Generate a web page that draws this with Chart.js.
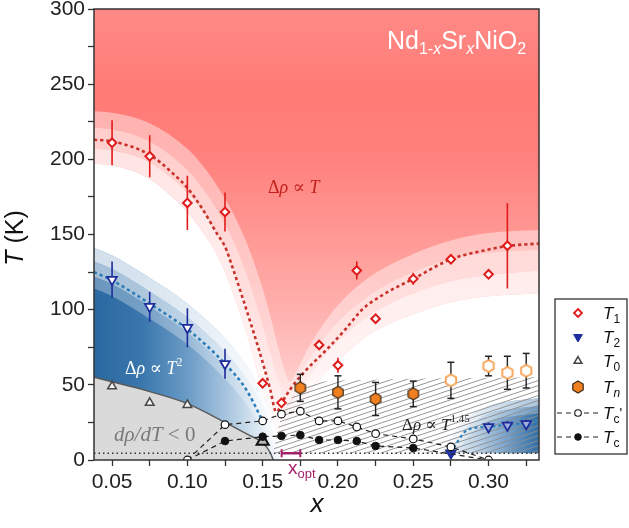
<!DOCTYPE html>
<html lang="en">
<head>
<meta charset="utf-8">
<title>Nd1-xSrxNiO2 phase diagram</title>
<script src="https://cdn.jsdelivr.net/npm/chart.js@4.4.1/dist/chart.umd.min.js"></script>
<style>
html,body{margin:0;padding:0;background:#fff;}
canvas{display:block;}
</style>
</head>
<body>
<canvas id="chart" width="629" height="528"></canvas>
<script>
// ================= DATA =================
const xTicks = [0.05, 0.075, 0.10, 0.125, 0.15, 0.175, 0.20, 0.225, 0.25, 0.275, 0.30, 0.325];
const yTicks = [0, 25, 50, 75, 100, 125, 150, 175, 200, 225, 250, 275, 300];
const xRange = [0.038, 0.3335];
const yRange = [0, 300];

// T1 (red open diamonds)
const t1X   = [0.05, 0.075, 0.10, 0.125, 0.15, 0.1625, 0.1875, 0.20, 0.2125, 0.225, 0.25, 0.275, 0.30, 0.3125];
const t1T   = [211, 202, 171, 165, 51, 38, 76.5, 63, 126, 94, 120.5, 133.5, 123.5, 142.5];
const t1Err = [15, 14, 18, 13, 0, 0, 0, 5, 6, 0, 4, 0, 0, 28.5];
// T2 (blue down triangles)
const t2X   = [0.05, 0.075, 0.10, 0.125, 0.275, 0.30, 0.3125, 0.325];
const t2T   = [120, 102, 88, 64, 4.6, 22, 23, 24];
const t2Err = [12, 10, 13, 10, 0, 3, 3, 3];
// T0 (grey up triangles)
const t0X = [0.05, 0.075, 0.10, 0.15];
const t0T = [49, 38, 36.6, 12.5];
// Tn (orange hexagons)
const tnX   = [0.175, 0.20, 0.225, 0.25, 0.275, 0.30, 0.3125, 0.325];
const tnT   = [48, 45, 40.6, 44, 53, 62.5, 58, 59.4];
const tnErr = [9, 11, 11, 8.5, 12, 6.5, 11, 11.5];
// Tc' (open circles) and Tc (filled circles)
const tcpX = [0.10, 0.125, 0.15, 0.1625, 0.175, 0.1875, 0.20, 0.2125, 0.225, 0.25, 0.275, 0.30];
const tcpT = [0, 23.5, 26, 30.5, 32.5, 26, 26, 22, 17.5, 14, 8.7, 0];
const tcX  = [0.10, 0.125, 0.15, 0.1625, 0.175, 0.1875, 0.20, 0.2125, 0.225, 0.25, 0.275, 0.30];
const tcT  = [0, 12.6, 15.5, 16, 16.6, 13.3, 13.3, 12.6, 9.3, 8, 4, 0];
// optimal doping window and the low-T dotted level
const xOptRange = [0.1626, 0.175];
const xOptT = 4.5;
const baseT = 4.5;

// guide-to-the-eye fits
const t1FitX = [0.038,0.05,0.075,0.09,0.10,0.11,0.12,0.125,0.13,0.136,0.143,0.15,0.155,0.159,0.165,0.172,0.179,0.187,0.194,0.205,0.216,0.23,0.25,0.275,0.30,0.313,0.3335];
const t1FitT = [213,212,203,191,181,167,150,142,128,110,88,65,47,32,42,52,60,68,75,87,100,110,120.5,133.5,140,142.4,144];
const t2FitX = [0.038,0.05,0.075,0.10,0.125,0.139,0.15];
const t2FitT = [125,119.5,104,87,64,47,26];
const t2FitRX = [0.275,0.28,0.2845,0.29,0.30,0.3125,0.325,0.3335];
const t2FitRT = [4.6,13,19,21.3,22,23.5,24.5,25.5];

// region boundaries [x, T]
const redEdge1 = [[0.038,232],[0.05,231],[0.075,224],[0.10,207],[0.11,196],[0.12,182],[0.13,165],[0.14,143],[0.15,114],[0.155,96],[0.16,76],[0.165,58],[0.168,52],[0.172,58],[0.18,74],[0.19,90],[0.20,103],[0.22,121],[0.25,137],[0.275,146],[0.30,151],[0.3335,153]];
const redEdge2 = [[0.038,221],[0.05,220],[0.075,212],[0.10,193],[0.11,181],[0.12,166],[0.13,147],[0.14,122],[0.15,90],[0.155,72],[0.16,54],[0.164,44],[0.168,46],[0.175,58],[0.18,66],[0.19,80],[0.20,92],[0.22,109],[0.25,125],[0.275,134],[0.30,138],[0.3335,140]];
const redEdge3 = [[0.038,207],[0.05,206],[0.075,198],[0.10,178],[0.11,166],[0.12,150],[0.13,129],[0.14,102],[0.15,68],[0.155,50],[0.16,33],[0.163,28],[0.168,36],[0.175,47],[0.18,55],[0.19,68],[0.20,79],[0.22,96],[0.25,111],[0.275,119],[0.30,123],[0.3335,126]];
const redEdge4 = [[0.038,197],[0.05,196],[0.075,187],[0.09,175],[0.10,165],[0.11,152],[0.116,143],[0.12,136],[0.13,112],[0.14,82],[0.145,64],[0.15,45],[0.155,28],[0.16,16],[0.165,22],[0.17,30],[0.18,44],[0.19,56],[0.20,66],[0.22,83],[0.25,97],[0.275,105],[0.30,109],[0.3335,111]];
const blueEdge1 = [[0.038,141],[0.05,136],[0.075,121],[0.10,104],[0.125,81],[0.14,62],[0.15,44],[0.157,25],[0.162,5]];
const blueEdge2 = [[0.038,132],[0.05,127],[0.075,112],[0.10,95],[0.125,72],[0.14,53],[0.15,36],[0.157,18],[0.162,4]];
const blueEdge3 = [[0.038,122],[0.05,117],[0.075,102],[0.10,85],[0.125,62],[0.14,44],[0.15,27],[0.157,12],[0.162,3]];
const blueEdge4 = [[0.038,114],[0.05,109],[0.075,94],[0.10,77],[0.125,54],[0.14,36],[0.15,20],[0.157,8],[0.162,2]];
const greyEdge  = [[0.038,55],[0.05,52],[0.075,45.5],[0.10,37.5],[0.125,25],[0.14,17],[0.15,11.5],[0.155,5],[0.157,0]];
const rBlueEdge1 = [[0.266,4.5],[0.272,10],[0.28,22],[0.29,31],[0.30,36],[0.315,39],[0.3335,41]];
const rBlueEdge2 = [[0.27,4.5],[0.276,9],[0.283,19],[0.293,27],[0.30,31],[0.315,34],[0.3335,36]];
const rBlueEdge3 = [[0.274,4.5],[0.28,8],[0.287,16],[0.295,23],[0.30,26],[0.315,29],[0.3335,31]];
const hatchEdge  = [[0.157,4.5],[0.16,20],[0.165,35],[0.172,44],[0.18,49],[0.19,52],[0.21,53],[0.25,54],[0.3335,55]];

// ================= helpers =================
const SANS = '"Liberation Sans", Arial, Helvetica, sans-serif';
const SERIF = '"Liberation Serif", "DejaVu Serif", "Times New Roman", serif';
const pts = a => a.map(([x, y]) => ({x, y}));
const zip = (xs, ys) => xs.map((x, i) => ({x, y: ys[i]}));
function errSeg(xs, ys, es) {
  const d = [];
  xs.forEach((x, i) => { if (es[i] > 0) d.push({x, y: ys[i] - es[i]}, {x, y: ys[i] + es[i]}, {x, y: null}); });
  return d;
}
function errCaps(xs, ys, es) {
  const d = [];
  xs.forEach((x, i) => { if (es[i] > 0) d.push({x, y: ys[i] - es[i]}, {x, y: ys[i] + es[i]}); });
  return d;
}
function vGrad(chart, stops) {
  const {ctx, chartArea, scales} = chart;
  if (!chartArea) return 'rgba(0,0,0,0)';
  const y0 = scales.y.getPixelForValue(yRange[1]), y1 = scales.y.getPixelForValue(yRange[0]);
  const g = ctx.createLinearGradient(0, y0, 0, y1);
  stops.forEach(([t, c]) => g.addColorStop(Math.min(1, Math.max(0, (scales.y.getPixelForValue(t) - y0) / (y1 - y0))), c));
  return g;
}
function hGrad(chart, stops) {
  const {ctx, chartArea, scales} = chart;
  if (!chartArea) return 'rgba(0,0,0,0)';
  const xa = scales.x.getPixelForValue(stops[0][0]), xb = scales.x.getPixelForValue(stops[stops.length - 1][0]);
  const g = ctx.createLinearGradient(xa, 0, xb, 0);
  stops.forEach(([x, c]) => g.addColorStop((scales.x.getPixelForValue(x) - xa) / (xb - xa), c));
  return g;
}
const redStops = [[300,'#ff8a86'],[245,'#ff7b76'],[200,'#ff817d'],[150,'#ff9894'],[100,'#ffb0ad'],[60,'#ffc9c7'],[30,'#ffe0df'],[0,'#fff6f6']];
const blueStops = [[0.038,'#2a68a1'],[0.07,'#3a77ad'],[0.10,'#6b9bc6'],[0.125,'#a5c3de'],[0.145,'#d7e5f1'],[0.162,'#f7fafd']];
const rBlueStops = [[0.266,'#ffffff'],[0.29,'#c2d6e8'],[0.31,'#7fa7cd'],[0.3335,'#2f6da5']];

const mainCtx = document.getElementById('chart').getContext('2d');
function makeHatch() {
  const c = document.createElement('canvas'); c.width = 15; c.height = 5;
  const g = c.getContext('2d'); g.strokeStyle = '#8c8c8c'; g.lineWidth = 0.9;
  for (const o of [-5, 0, 5]) { g.beginPath(); g.moveTo(0, 5 + o); g.lineTo(15, o); g.stroke(); }
  return mainCtx.createPattern(c, 'repeat');
}
const hatch = makeHatch();
function hexCanvas(fill, stroke, lw, r) {
  const s = Math.ceil(2 * r + lw + 2);
  const c = document.createElement('canvas'); c.width = s; c.height = s;
  const g = c.getContext('2d');
  g.beginPath();
  for (let i = 0; i < 6; i++) {
    const a = Math.PI / 180 * (60 * i - 90);
    const px = s / 2 + r * Math.cos(a), py = s / 2 + r * Math.sin(a);
    if (i) g.lineTo(px, py); else g.moveTo(px, py);
  }
  g.closePath(); g.fillStyle = fill; g.fill(); g.lineWidth = lw; g.strokeStyle = stroke; g.stroke();
  return c;
}
const hexFull = hexCanvas('#f07f1f', '#3b2a1a', 1.2, 6);
const hexOpen = hexCanvas('#ffffff', '#f6a04f', 1.8, 6);

const RED = '#e01b1b', BLUE = '#1e2d9c', RED_FIT = '#c8302a', BLUE_FIT = '#2d7db8';

// ================= datasets =================
const ds = [];
const add = d => { ds.push(Object.assign({pointRadius: 0, pointHitRadius: 0, borderWidth: 0, cubicInterpolationMode: 'monotone'}, d)); return ds.length - 1; };

// red region: gradient above the outermost (white-side) edge, then lighter bands
add({data: pts(redEdge4), fill: 'end', backgroundColor: c => vGrad(c.chart, redStops), order: 62});
const iR1 = add({data: pts(redEdge1), fill: false, order: 61});
const iR2 = add({data: pts(redEdge2), fill: iR1, backgroundColor: 'rgba(255,255,255,0.42)', order: 59});
const iR3 = add({data: pts(redEdge3), fill: iR2, backgroundColor: 'rgba(255,255,255,0.62)', order: 58});
add({data: pts(redEdge4), fill: iR3, backgroundColor: 'rgba(255,255,255,0.8)', order: 57});
// blue T^2 region
const iB1 = add({data: pts(blueEdge1), fill: 'start', backgroundColor: c => hGrad(c.chart, blueStops), order: 56});
const iB2 = add({data: pts(blueEdge2), fill: iB1, backgroundColor: 'rgba(255,255,255,0.8)', order: 55});
const iB3 = add({data: pts(blueEdge3), fill: iB2, backgroundColor: 'rgba(255,255,255,0.58)', order: 54});
add({data: pts(blueEdge4), fill: iB3, backgroundColor: 'rgba(255,255,255,0.3)', order: 53});
// grey insulating region
add({data: pts(greyEdge), fill: 'start', backgroundColor: '#dadada', borderColor: '#5a5a5a', borderWidth: 1.5, order: 52});
// blue region at high doping
const iRB1 = add({data: pts(rBlueEdge1), fill: {value: baseT}, backgroundColor: c => hGrad(c.chart, rBlueStops), order: 51});
const iRB2 = add({data: pts(rBlueEdge2), fill: iRB1, backgroundColor: 'rgba(255,255,255,0.6)', order: 50});
add({data: pts(rBlueEdge3), fill: iRB2, backgroundColor: 'rgba(255,255,255,0.3)', order: 49});
// hatched T^1.45 region
add({data: pts(hatchEdge), fill: {value: baseT}, backgroundColor: hatch, order: 48});

// dotted low-T level
add({data: [{x: xRange[0], y: baseT}, {x: xRange[1], y: baseT}], borderColor: '#333', borderWidth: 1.4, borderDash: [1.5, 3], order: 40});
// fits
add({data: zip(t1FitX, t1FitT), borderColor: RED_FIT, borderWidth: 2.6, borderDash: [3.2, 3], order: 39});
add({data: zip(t2FitX, t2FitT), borderColor: BLUE_FIT, borderWidth: 2.6, borderDash: [3.2, 3], order: 38});
add({data: zip(t2FitRX, t2FitRT), borderColor: BLUE_FIT, borderWidth: 2.2, borderDash: [3, 3], order: 37});
// error bars
add({data: errSeg(t1X, t1T, t1Err), borderColor: RED, borderWidth: 1.6, cubicInterpolationMode: 'default', tension: 0, order: 30});
add({data: errSeg(t2X, t2T, t2Err), borderColor: BLUE, borderWidth: 1.6, cubicInterpolationMode: 'default', tension: 0, order: 29});
add({data: errSeg(tnX, tnT, tnErr), borderColor: '#222', borderWidth: 1.4, cubicInterpolationMode: 'default', tension: 0, order: 28});
add({data: errCaps(tnX, tnT, tnErr), showLine: false, pointStyle: 'line', pointRadius: 3.5, pointBorderWidth: 1.5, pointBorderColor: '#222', order: 27});
// markers
add({data: zip(t0X, t0T), showLine: false, pointStyle: 'triangle',
     pointRadius: t0T.map((v, i) => i === 3 ? 7 : 5), pointBorderWidth: t0T.map((v, i) => i === 3 ? 2 : 1.5),
     pointBorderColor: t0T.map((v, i) => i === 3 ? '#111' : '#474747'), pointBackgroundColor: t0T.map((v, i) => i === 3 ? '#b8b8b8' : '#f4f4f4'), order: 20});
add({data: zip(t2X, t2T), showLine: false, pointStyle: 'triangle', pointRotation: 180, pointRadius: 5.5, pointBorderWidth: 1.8,
     pointBorderColor: BLUE, pointBackgroundColor: t2X.map(x => x < 0.2 ? '#ffffff' : (x < 0.29 ? '#2438a8' : '#9fb0dc')), order: 19});
add({data: zip(t1X, t1T), showLine: false, pointStyle: 'rectRot', pointRadius: 4.3, pointBorderWidth: 2,
     pointBorderColor: RED, pointBackgroundColor: '#ffffff', order: 18});
add({data: zip(tnX, tnT), showLine: false, pointStyle: tnX.map(x => x < 0.26 ? hexFull : hexOpen), pointRadius: 6, order: 17});
add({data: zip(tcX, tcT), borderColor: '#222', borderWidth: 1.2, borderDash: [5, 4], cubicInterpolationMode: 'default', tension: 0,
     pointStyle: 'circle', pointRadius: tcT.map(v => v > 5 ? 3.8 : 0), pointBorderWidth: 1, pointBorderColor: '#111', pointBackgroundColor: '#111', order: 12});
add({data: zip(tcpX, tcpT), borderColor: '#222', borderWidth: 1.2, borderDash: [5, 4], cubicInterpolationMode: 'default', tension: 0,
     pointStyle: 'circle', pointRadius: 3.8, pointBorderWidth: 1.2, pointBorderColor: '#111', pointBackgroundColor: '#ffffff', order: 11});
add({data: [{x: xOptRange[0], y: xOptT}, {x: xOptRange[1], y: xOptT}], borderColor: '#a3206a', borderWidth: 2.5, cubicInterpolationMode: 'default',
     pointStyle: 'line', pointRotation: 90, pointRadius: 4, pointBorderWidth: 2, pointBorderColor: '#a3206a', order: 5});

// ================= text / frame / legend plugin =================
function runs(ctx, x, y, parts, align) {
  let w = 0;
  for (const p of parts) { ctx.font = p.f; w += ctx.measureText(p.t).width; }
  let cx = align === 'center' ? x - w / 2 : (align === 'right' ? x - w : x);
  ctx.textAlign = 'left';
  for (const p of parts) { ctx.font = p.f; ctx.fillText(p.t, cx, y + (p.dy || 0)); cx += ctx.measureText(p.t).width; }
}
function marker(ctx, type, x, y, r, fill, stroke, lw) {
  ctx.save();
  ctx.beginPath();
  if (type === 'diamond') { ctx.moveTo(x, y - r); ctx.lineTo(x + r, y); ctx.lineTo(x, y + r); ctx.lineTo(x - r, y); ctx.closePath(); }
  else if (type === 'triUp' || type === 'triDown') {
    const s = type === 'triUp' ? 1 : -1;
    for (let i = 0; i < 3; i++) { const a = -Math.PI / 2 * s + i * 2 * Math.PI / 3; const px = x + r * Math.cos(a), py = y + r * Math.sin(a); if (i) ctx.lineTo(px, py); else ctx.moveTo(px, py); }
    ctx.closePath();
  } else { ctx.arc(x, y, r, 0, Math.PI * 2); }
  ctx.fillStyle = fill; ctx.fill(); ctx.lineWidth = lw; ctx.strokeStyle = stroke; ctx.stroke();
  ctx.restore();
}
const legendRows = [
  {sub: '1', type: 'diamond', r: 4, fill: '#fff', stroke: RED, lw: 1.8},
  {sub: '2', type: 'triDown', r: 5, fill: BLUE, stroke: BLUE, lw: 1},
  {sub: '0', type: 'triUp', r: 4.5, fill: '#fff', stroke: '#444', lw: 1.5},
  {sub: 'n', type: 'hex', italicSub: true},
  {sub: 'c', prime: true, type: 'circle', r: 3.3, fill: '#fff', stroke: '#111', lw: 1.1, line: true},
  {sub: 'c', type: 'circle', r: 3.3, fill: '#111', stroke: '#111', lw: 1, line: true}
];
const deco = {
  id: 'deco',
  afterDatasetsDraw(chart) {
    const {ctx, chartArea: a} = chart;
    ctx.save();
    ctx.strokeStyle = '#333'; ctx.lineWidth = 1.5;
    ctx.strokeRect(a.left, a.top, a.right - a.left, a.bottom - a.top);
    ctx.textBaseline = 'alphabetic';
    ctx.fillStyle = '#ffffff';
    runs(ctx, 387, 49, [
      {t: 'Nd', f: `25px ${SANS}`}, {t: '1-', f: `16px ${SANS}`, dy: 5}, {t: 'x', f: `italic 16px ${SANS}`, dy: 5},
      {t: 'Sr', f: `25px ${SANS}`}, {t: 'x', f: `italic 16px ${SANS}`, dy: 5},
      {t: 'NiO', f: `25px ${SANS}`}, {t: '2', f: `16px ${SANS}`, dy: 5}]);
    ctx.fillStyle = '#c0211c';
    runs(ctx, 268, 193, [{t: 'Δ', f: `18px ${SERIF}`}, {t: 'ρ', f: `italic 18px ${SERIF}`}, {t: ' ∝ ', f: `18px ${SERIF}`}, {t: 'T', f: `italic 18px ${SERIF}`}]);
    ctx.fillStyle = '#ffffff';
    runs(ctx, 125, 374, [{t: 'Δ', f: `18px ${SERIF}`}, {t: 'ρ', f: `italic 18px ${SERIF}`}, {t: ' ∝ ', f: `18px ${SERIF}`}, {t: 'T', f: `italic 18px ${SERIF}`}, {t: '2', f: `12px ${SERIF}`, dy: -8}]);
    ctx.fillStyle = '#7a7a7a';
    runs(ctx, 114, 441, [{t: 'dρ/dT', f: `italic 21px ${SERIF}`}, {t: ' < 0', f: `21px ${SERIF}`}]);
    ctx.fillStyle = '#222222';
    runs(ctx, 402, 430, [{t: 'Δ', f: `17px ${SERIF}`}, {t: 'ρ', f: `italic 17px ${SERIF}`}, {t: ' ∝ ', f: `17px ${SERIF}`}, {t: 'T', f: `italic 17px ${SERIF}`}, {t: '1.45', f: `11px ${SERIF}`, dy: -8}]);
    ctx.restore();
  },
  afterDraw(chart) {
    const {ctx} = chart;
    ctx.save();
    ctx.textBaseline = 'alphabetic';
    ctx.fillStyle = '#a3206a';
    runs(ctx, 288, 474, [{t: 'x', f: `19px ${SANS}`}, {t: 'opt', f: `13px ${SANS}`, dy: 4}]);
    ctx.fillStyle = '#111';
    runs(ctx, 317, 512, [{t: 'x', f: `italic 26px ${SANS}`}], 'center');
    ctx.save();
    ctx.translate(23, 238); ctx.rotate(-Math.PI / 2);
    runs(ctx, 0, 0, [{t: 'T', f: `italic 25px ${SANS}`}, {t: ' (K)', f: `25px ${SANS}`}], 'center');
    ctx.restore();
    const L = {x: 555, y: 299, w: 72, h: 155};
    ctx.fillStyle = '#fff'; ctx.fillRect(L.x, L.y, L.w, L.h);
    ctx.strokeStyle = '#222'; ctx.lineWidth = 1.2; ctx.strokeRect(L.x, L.y, L.w, L.h);
    const ys = [313, 337, 361, 387, 413, 437];
    legendRows.forEach((r, i) => {
      const y = ys[i], mx = 578;
      if (r.line) {
        ctx.save(); ctx.strokeStyle = '#222'; ctx.lineWidth = 1.2; ctx.setLineDash([5, 4]);
        ctx.beginPath(); ctx.moveTo(557, y); ctx.lineTo(599, y); ctx.stroke(); ctx.restore();
      }
      if (r.type === 'hex') ctx.drawImage(hexFull, mx - hexFull.width / 2, y - hexFull.height / 2);
      else marker(ctx, r.type, mx, y, r.r, r.fill, r.stroke, r.lw);
      ctx.fillStyle = '#111';
      const parts = [{t: 'T', f: `italic 17px ${SANS}`}, {t: r.sub, f: `${r.italicSub ? 'italic ' : ''}12px ${SANS}`, dy: 4}];
      if (r.prime) parts.push({t: "'", f: `14px ${SANS}`, dy: -1});
      runs(ctx, 603, y + 6, parts);
    });
    ctx.restore();
  }
};

// ================= chart =================
Chart.defaults.font.family = SANS;
new Chart(document.getElementById('chart'), {
  type: 'line',
  data: {datasets: ds},
  options: {
    responsive: false,
    animation: false,
    devicePixelRatio: 1,
    events: [],
    layout: {padding: {left: 0, right: 90, top: 8, bottom: 0}},
    plugins: {legend: {display: false}, tooltip: {enabled: false}},
    scales: {
      x: {
        type: 'linear', min: xRange[0], max: xRange[1],
        afterBuildTicks: ax => { ax.ticks = xTicks.map(v => ({value: v})); },
        afterFit: s => { s.height = 68; s.paddingLeft = 0; s.paddingRight = 0; },
        ticks: {
          autoSkip: false, maxRotation: 0, minRotation: 0, padding: 4, color: '#222', font: {size: 21},
          callback: v => Math.abs(v / 0.05 - Math.round(v / 0.05)) < 1e-6 ? v.toFixed(2) : ''
        },
        grid: {display: true, drawOnChartArea: false, drawTicks: true, tickLength: 6, tickColor: '#333', tickWidth: 1.3},
        border: {display: false}
      },
      y: {
        type: 'linear', min: yRange[0], max: yRange[1],
        afterBuildTicks: ax => { ax.ticks = yTicks.map(v => ({value: v})); },
        afterFit: s => { s.width = 94; s.paddingTop = 0; s.paddingBottom = 0; },
        ticks: {
          autoSkip: false, padding: 3, color: '#222', font: {size: 21},
          callback: v => v % 50 === 0 ? String(v) : ''
        },
        grid: {display: true, drawOnChartArea: false, drawTicks: true, tickLength: 6, tickColor: '#333', tickWidth: 1.3},
        border: {display: false}
      }
    }
  },
  plugins: [deco]
});
</script>
</body>
</html>
